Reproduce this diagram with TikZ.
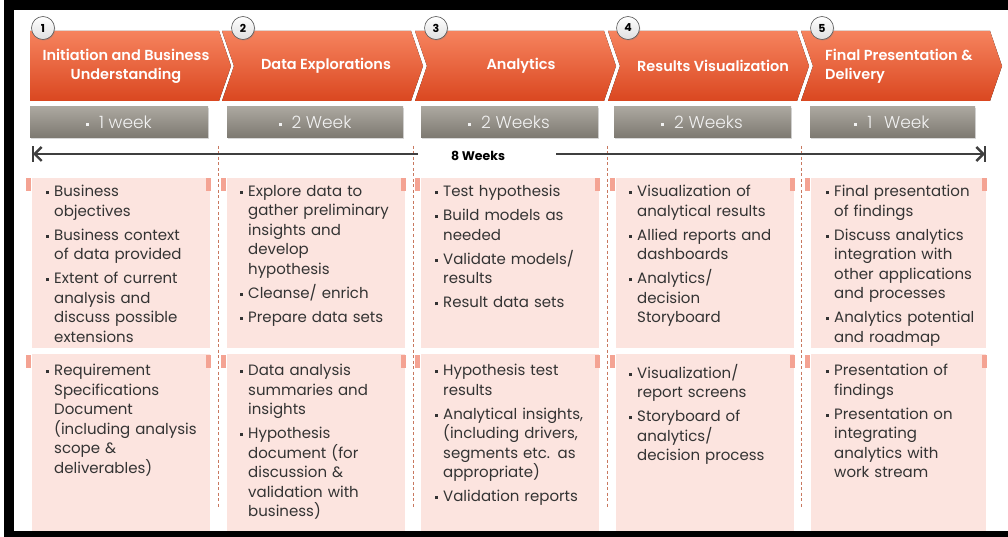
\documentclass[tikz,border=0pt]{standalone}
\usepackage{fontspec}
\setmainfont{Poppins}
\newfontfamily\lightfont{Poppins Light}
\newfontfamily\semifont{Poppins SemiBold}
\usetikzlibrary{arrows.meta,shadows}
\definecolor{chevtop}{HTML}{F6835E}
\definecolor{chevbot}{HTML}{DA4720}
\definecolor{greytop}{HTML}{ABA79F}
\definecolor{greybot}{HTML}{7D7971}
\definecolor{pinkbox}{HTML}{FCE4DF}
\definecolor{pinktab}{HTML}{F4A393}
\definecolor{dashcol}{HTML}{C8785F}
\definecolor{txtcol}{HTML}{333333}
\definecolor{linecol}{HTML}{3F3F3F}
\newcommand{\bsq}{\rule[2.6pt]{3pt}{3pt}}
\newcommand{\itm}[1]{{\let\\\newline\lineskiplimit=-100pt\relax\hangindent=8pt\relax\hangafter=1\relax\noindent\makebox[8pt][l]{\bsq}#1\par}\vspace{4.6pt}}
\tikzset{
  chev/.style={top color=chevtop,bottom color=chevbot,draw=none},
  chevtxt/.style={text=white,font=\semifont\fontsize{14.5}{19}\selectfont,align=center,inner sep=0pt},
  numcirc/.style={circle,minimum size=23pt,inner sep=0pt,top color=white,bottom color=gray!25,draw=gray!70!black,line width=0.6pt,drop shadow={opacity=0.35,shadow xshift=0.8pt,shadow yshift=-1pt},font=\bfseries\fontsize{11}{12}\selectfont,text=black},
  greybox/.style={top color=greytop,bottom color=greybot,draw=none,drop shadow={opacity=0.3,shadow xshift=1pt,shadow yshift=-1.2pt}},
  greytxt/.style={text=white!90!gray,font=\lightfont\fontsize{17}{18}\selectfont,inner sep=0pt},
  pinkrect/.style={fill=pinkbox,draw=none},
  tab/.style={fill=pinktab,draw=none},
  blist/.style={anchor=north west,text width=170pt,inner sep=0pt,text=txtcol,font=\fontsize{15}{19.5}\selectfont,align=left},
  divider/.style={dashcol,line width=0.6pt,dash pattern=on 3pt off 2.5pt},
  tline/.style={linecol,line width=2.4pt},
}
\begin{document}
\begin{tikzpicture}[x=1pt,y=-1pt]
\useasboundingbox (0,0) rectangle (1008,537);
\fill[white] (0,0) rectangle (1008,537);
% frame
\fill[black] (4,0) rectangle (1008,10);
\fill[black] (4,0) rectangle (14,537);
\fill[black] (4,531) rectangle (1008,537);

% pink boxes
\foreach \L/\W in {32/178,227/178,421/178,616/178,811/175}{
  \fill[pinkrect] (\L,178) rectangle ({\L+\W},348);
  \fill[pinkrect] (\L,354) rectangle ({\L+\W},531);
  \fill[tab] ({\L-6},178) rectangle ({\L-1},191);
  \fill[tab] ({\L+\W-4},178) rectangle ({\L+\W+1},191);
  \fill[tab] ({\L-6},355) rectangle ({\L-1},368);
  \fill[tab] ({\L+\W-4},355) rectangle ({\L+\W+1},368);
}
% dividers
\foreach \X in {218,413,607,801}{
  \draw[divider] (\X,146) -- (\X,507);
}

% chevrons
\fill[chev] (30,31) -- (219,31) -- (231,66) -- (219,101) -- (30,101) -- cycle;
\fill[chev] (222,31) -- (411,31) -- (423,66) -- (411,101) -- (222,101) -- (234,66) -- cycle;
\fill[chev] (415,31) -- (604,31) -- (616,66) -- (604,101) -- (415,101) -- (427,66) -- cycle;
\fill[chev] (608,31) -- (797,31) -- (809,66) -- (797,101) -- (608,101) -- (620,66) -- cycle;
\fill[chev] (801,31) -- (990,31) -- (1002,66) -- (990,101) -- (801,101) -- (813,66) -- cycle;

\node[chevtxt] (h1) at (126,66) {Initiation and Business\\Understanding};
\node[chevtxt] (h2) at (326,66) {Data Explorations};
\node[chevtxt] (h3) at (521,66) {Analytics};
\node[chevtxt] (h4) at (713,66) {Results Visualization};
\node[chevtxt,align=left,anchor=west] (h5) at (825,66) {Final Presentation \&\\Delivery};

\node[numcirc] (n1) at (43,28) {1};
\node[numcirc] (n2) at (243,28) {2};
\node[numcirc] (n3) at (436,28) {3};
\node[numcirc] (n4) at (628,28) {4};
\node[numcirc] (n5) at (822,28) {5};

% grey duration boxes
\fill[greybox] (30,107) rectangle (208,138);
\fill[greybox] (227,107) rectangle (403,138);
\fill[greybox] (421,107) rectangle (598,138);
\fill[greybox] (614,107) rectangle (791,138);
\fill[greybox] (810,107) rectangle (975,138);
\node[greytxt] (d1) at (119,122) {\bsq\hspace{10pt}1 week};
\node[greytxt] (d2) at (315,122) {\bsq\hspace{10pt}2 Week};
\node[greytxt] (d3) at (509,122) {\bsq\hspace{10pt}2 Weeks};
\node[greytxt] (d4) at (702,122) {\bsq\hspace{10pt}2 Weeks};
\node[greytxt] (d5) at (892,122) {\bsq\hspace{10pt}1\hspace{7pt} Week};

% timeline
\coordinate (tl) at (33,154);
\coordinate (tr) at (985,154);
\coordinate (gl) at (418,154);
\coordinate (gr) at (556,154);
\node[font=\bfseries\fontsize{12.5}{13}\selectfont,text=black,inner sep=0pt] (wk) at (478,156) {8 Weeks};
\draw[tline,-{Straight Barb[length=7pt,width=14pt]}] (gl) -- (tl);
\draw[tline,-{Straight Barb[length=7pt,width=14pt]}] (gr) -- (tr);
\draw[tline,line width=2pt] ([yshift=-8pt]tl) -- ([yshift=8pt]tl);
\draw[tline,line width=2pt] ([yshift=-8pt]tr) -- ([yshift=8pt]tr);

% activities (upper)
\node[blist] (a1) at (46,185) {%
\itm{Business\\objectives}
\itm{Business context\\of data provided}
\itm{Extent of current\\analysis and\\discuss possible\\extensions}};
\node[blist] (a2) at (240,185) {%
\itm{Explore data to\\gather preliminary\\insights and\\develop\\hypothesis}
\itm{Cleanse/ enrich}
\itm{Prepare data sets}};
\node[blist] (a3) at (435,185) {%
\itm{Test hypothesis}
\itm{Build models as\\needed}
\itm{Validate models/\\results}
\itm{Result data sets}};
\node[blist] (a4) at (629,185) {%
\itm{Visualization of\\analytical results}
\itm{Allied reports and\\dashboards}
\itm{Analytics/\\decision\\Storyboard}};
\node[blist] (a5) at (826,185) {%
\itm{Final presentation\\of findings}
\itm{Discuss analytics\\integration with\\other applications\\and processes}
\itm{Analytics potential\\and roadmap}};

% deliverables (lower)
\node[blist] (b1) at (46,364) {%
\itm{Requirement\\Specifications\\Document\\(including analysis\\scope \&\\deliverables)}};
\node[blist] (b2) at (240,364) {%
\itm{Data analysis\\summaries and\\insights}
\itm{Hypothesis\\document (for\\discussion \&\\validation with\\business)}};
\node[blist] (b3) at (435,364) {%
\itm{Hypothesis test\\results}
\itm{Analytical insights,\\(including drivers,\\segments etc. as\\appropriate)}
\itm{Validation reports}};
\node[blist] (b4) at (629,364) {%
\itm{Visualization/\\report screens}
\itm{Storyboard of\\analytics/\\decision process}};
\node[blist] (b5) at (826,364) {%
\itm{Presentation of\\findings}
\itm{Presentation on\\integrating\\analytics with\\work stream}};
\end{tikzpicture}
\end{document}
